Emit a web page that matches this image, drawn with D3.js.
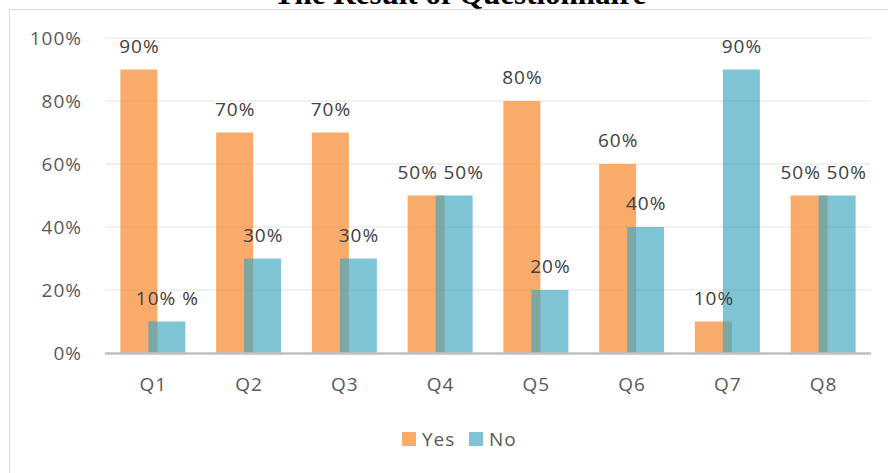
<!DOCTYPE html>
<html>
<head>
<meta charset="utf-8">
<script src="https://cdn.jsdelivr.net/npm/d3@7"></script>
<style>
  html, body { margin: 0; padding: 0; background: #fff; }
  svg { display: block; }
</style>
</head>
<body>
<svg id="chart" width="888" height="473"></svg>
<script>
const categories = ["Q1", "Q2", "Q3", "Q4", "Q5", "Q6", "Q7", "Q8"];
const yesValues = [90, 70, 70, 50, 80, 60, 10, 50];
const noValues  = [10, 30, 30, 50, 20, 40, 90, 50];
const yesLabels = ["90%", "70%", "70%", "50%", "80%", "60%", "10%", "50%"];
const noLabels  = ["10% %", "30%", "30%", "50%", "20%", "40%", "90%", "50%"];
const yTicks = [0, 20, 40, 60, 80, 100];
const seriesNames = ["Yes", "No"];
const title = "The Result of Questionnaire";

const svg = d3.select("#chart");
const font = "'Open Sans', 'Noto Sans', sans-serif";
const fs = 19, ls = 1;

// frame
svg.append("rect").attr("x", 9.5).attr("y", 9.5).attr("width", 900).attr("height", 500)
  .attr("fill", "none").attr("stroke", "#d9d9d9").attr("stroke-width", 1);

// title (cut off at top, as in the reference)
svg.append("text").attr("x", 460).attr("y", 4).attr("text-anchor", "middle")
  .attr("font-family", "'Liberation Serif', 'Times New Roman', serif")
  .attr("font-weight", "bold").attr("font-size", 31).attr("fill", "#000").text(title);

const x = d3.scaleBand().domain(categories).range([105, 871]).paddingInner(0).paddingOuter(0);
const y = d3.scaleLinear().domain([0, 100]).range([353, 38]);

// gridlines
svg.append("g").selectAll("line").data(yTicks.filter(t => t > 0)).join("line")
  .attr("x1", 105).attr("x2", 871)
  .attr("y1", d => y(d)).attr("y2", d => y(d))
  .attr("stroke", "#ececec").attr("stroke-width", 1.5);

// y axis labels
const yAxis = d3.axisLeft(y).tickValues(yTicks).tickFormat(d => d + "%").tickSize(0).tickPadding(0);
const gy = svg.append("g").attr("transform", "translate(82,0)").call(yAxis);
gy.select(".domain").remove();
gy.selectAll("text").attr("font-family", font).attr("font-size", fs).attr("letter-spacing", ls)
  .attr("fill", "#595959");

const barW = 37;
const yesOff = -32.5, noOff = -4.5;
const cx = c => x(c) + x.bandwidth() / 2;

// Yes bars
svg.append("g").selectAll("rect").data(categories).join("rect")
  .attr("x", (d) => cx(d) + yesOff)
  .attr("width", barW)
  .attr("y", (d, i) => y(yesValues[i]))
  .attr("height", (d, i) => y(0) - y(yesValues[i]))
  .attr("fill", "#F79646").attr("fill-opacity", 0.8);

// No bars
svg.append("g").selectAll("rect").data(categories).join("rect")
  .attr("x", (d) => cx(d) + noOff)
  .attr("width", barW)
  .attr("y", (d, i) => y(noValues[i]))
  .attr("height", (d, i) => y(0) - y(noValues[i]))
  .attr("fill", "#3CA5C0").attr("fill-opacity", 0.66);

// baseline axis
svg.append("line").attr("x1", 105).attr("x2", 871).attr("y1", y(0) + 0.5).attr("y2", y(0) + 0.5)
  .attr("stroke", "#bfbfbf").attr("stroke-width", 2.5);

// x axis labels
const xAxis = d3.axisBottom(x).tickSize(0).tickPadding(0);
const gx = svg.append("g").attr("transform", "translate(0.5,377)").call(xAxis);
gx.select(".domain").remove();
gx.selectAll("text").attr("font-family", font).attr("font-size", fs).attr("letter-spacing", ls)
  .attr("fill", "#595959").attr("dy", "0.71em");

// data labels with simple collision avoidance
const labelGap = 24;
categories.forEach((c, i) => {
  let yx = cx(c) + yesOff + barW / 2;
  let nx = cx(c) + noOff + barW / 2;
  const yy = y(yesValues[i]) - labelGap;
  const ny = y(noValues[i]) - labelGap;
  if (Math.abs(yy - ny) < 16) {
    const half = 23;
    yx = Math.min(yx, cx(c) - half);
    nx = Math.max(nx, cx(c) + half);
  }
  [[yx, yy, yesLabels[i]], [nx, ny, noLabels[i]]].forEach(([lx, ly, t]) => {
    svg.append("text").attr("x", lx + 0.5).attr("y", ly).attr("text-anchor", "middle")
      .attr("dominant-baseline", "central").attr("letter-spacing", ls)
      .attr("font-family", font).attr("font-size", fs).attr("fill", "#404040").text(t);
  });
});

// legend
const legendColors = [["#F79646", 0.8], ["#3CA5C0", 0.66]];
const legendX = [402, 469];
seriesNames.forEach((s, i) => {
  svg.append("rect").attr("x", legendX[i]).attr("y", 432).attr("width", 14).attr("height", 14)
    .attr("fill", legendColors[i][0]).attr("fill-opacity", legendColors[i][1]);
  svg.append("text").attr("x", legendX[i] + 20).attr("y", 439).attr("dominant-baseline", "central")
    .attr("letter-spacing", ls)
    .attr("font-family", font).attr("font-size", fs).attr("fill", "#595959").text(s);
});
</script>
</body>
</html>
